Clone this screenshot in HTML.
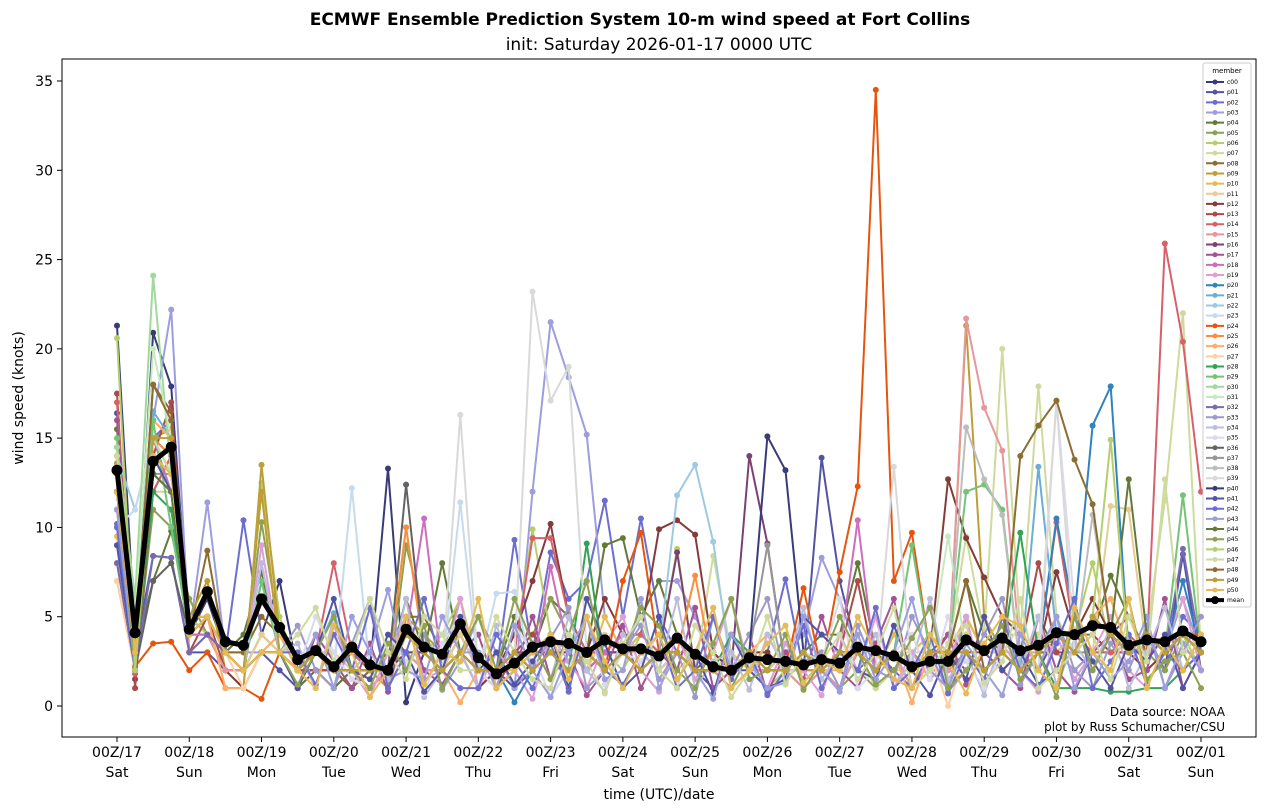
<!DOCTYPE html>
<html><head><meta charset="utf-8"><style>
body{margin:0;background:#fff;}
svg{display:block;font-family:"DejaVu Sans","Liberation Sans",sans-serif;}
</style></head><body>
<svg id="chart" width="1266" height="812">
<rect x="0" y="0" width="1266" height="812" fill="#fff"/>
<text x="640" y="25" text-anchor="middle" font-size="17" font-weight="bold">ECMWF Ensemble Prediction System 10-m wind speed at Fort Collins</text>
<text x="659" y="50" text-anchor="middle" font-size="17">init: Saturday 2026-01-17 0000 UTC</text>
<defs><clipPath id="clip"><rect x="62" y="59" width="1194" height="678"/></clipPath></defs>
<g id="axes"></g>
<g id="series" clip-path="url(#clip)"></g>
<rect x="62" y="59" width="1194" height="678" fill="none" stroke="#000" stroke-width="1"/>
<text x="1225" y="716" text-anchor="end" font-size="12">Data source: NOAA</text>
<text x="1225" y="731" text-anchor="end" font-size="12">plot by Russ Schumacher/CSU</text>
<text x="659" y="799" text-anchor="middle" font-size="14">time (UTC)/date</text>
<text x="23" y="398" text-anchor="middle" font-size="14" transform="rotate(-90 23 398)">wind speed (knots)</text>
<g id="legend"></g>
</svg>
<script>
const members=["c00","p01","p02","p03","p04","p05","p06","p07","p08","p09","p10","p11","p12","p13","p14","p15","p16","p17","p18","p19","p20","p21","p22","p23","p24","p25","p26","p27","p28","p29","p30","p31","p32","p33","p34","p35","p36","p37","p38","p39","p40","p41","p42","p43","p44","p45","p46","p47","p48","p49","p50"];
const xTickDates=["00Z/17","00Z/18","00Z/19","00Z/20","00Z/21","00Z/22","00Z/23","00Z/24","00Z/25","00Z/26","00Z/27","00Z/28","00Z/29","00Z/30","00Z/31","00Z/01"];
const xTickDays=["Sat","Sun","Mon","Tue","Wed","Thu","Fri","Sat","Sun","Mon","Tue","Wed","Thu","Fri","Sat","Sun"];
const yTicks=[0,5,10,15,20,25,30,35];
const meanValues=[13.2,4.1,13.7,14.5,4.3,6.4,3.6,3.4,6.0,4.4,2.6,3.1,2.2,3.3,2.3,2.0,4.3,3.3,2.9,4.6,2.7,1.8,2.4,3.3,3.6,3.5,3.0,3.7,3.2,3.2,2.8,3.8,2.9,2.2,2.0,2.7,2.6,2.5,2.3,2.6,2.4,3.3,3.1,2.8,2.2,2.5,2.5,3.7,3.1,3.8,3.1,3.4,4.1,4.0,4.5,4.4,3.4,3.7,3.6,4.2,3.6];
const memberValues=[
[21.3,4,20.9,17.9,4,6,3,2,4,7, 2,3,2,1,2,13.3,0.2,3,2,4, 2,1,2,3,4,3,2,3,3,2, 3,4,2,2,1,2,2,2,1,2, 1,3,2,3,1,2,2,3,2,3, 2,3,4,3,5,4,3,4,3,4, 3],
[16.4,3,8.4,8.3,3,3,2,2,3,2, 1,2,1,2,1,2,3,2,2,3, 1,2,1,2,3,2,3,3,4,3, 2,3,2,1,2,2,3,2,2,13.9, 7,3,2,4,3,2,3,2,3,2, 3,2,4,3,2,4,5,3,2,8.5, 2],
[10.2,2,15,16,5,5,3,10.4,4,3, 2,2,2,1,2,1,3,3,2,3, 2,2,9.3,3,8.6,6,7,11.5,5,10.5, 5,3,2,2,2,3,3,7.1,2,2, 3,2,3,2,1,3,2,4,3,3, 2,4,3,2,3,3,3,4,2,5, 4],
[12,2,16,22.2,4,11.4,3,3,3,3, 2,3,2,2,2,1,3,2,2,3, 2,3,1,12,21.5,18.4,15.2,5,3,5, 7,7,5,3,2,3,2,3,4,8.3, 6,3,2,3,2,3,2,5,3,3, 2,3,3,2,3,4,3,2,3,6, 3],
[15.5,3,7,9.8,5,4,3,4,7.5,3, 1,2,1,2,1,2,6,3,8,3, 2,2,5,3,6,5,3,9,9.4,5, 7,4,2,3,2,3,2,2,3,4, 4,8,3,2,3,2,3,7,4,3, 2,5,3,4,4,7.3,5,3,4,4, 3],
[14.5,2,11,10,6,4,3,2,10.3,4, 2,3,2,3,2,1,9,5,3,6, 2,1,3,4,6,4,2,3,3,4, 3,3,2,2,1,3,2,2,1,2, 1,2,1,2,3,2,1,5,3,4, 2,3,4,3,3,4,3,3,2,4, 2],
[11,3,16,15,5,4,2,1,12.5,5, 2,2,2,3,2,2,10,3,4,6, 2,1,3,9.9,4,3,2,3,2,4, 3,8.8,2,2,3,2,1,2,2,3, 2,3,2,3,2,3,2,3,2,3, 2,3,3,4,8,3,3,4,3,4, 2],
[9,2,15,13,3,4,2,1,3,4, 2,3,2,3,2,1,4,3,2,3, 2,1,2,3,4,3,2,3,3,2, 3,4,2,8.4,3,2,3,2,2,3, 2,3,1,2,2,3,3,9.5,4,20, 4,17.9,5,3,4,3,3,4,11.5,22, 3],
[13,3,18,16.5,4,8.7,3,3,5,4, 2,3,2,1,2,3,5,5,3,4, 2,1,3,3,4,3,2,3,4,3, 2,3,2,3,2,3,2,3,2,3, 2,3,2,3,2,3,2,3,2,3, 2,3,3,4,3,4,3,4,3,4, 3],
[13.6,3,15,15.5,5,7,2,1,13.5,4, 2,3,2,2,2,1,5,4,3,4, 2,1,2,3,4,3,2,3,3,2, 3,4,2,2,1,2,2,3,2,2, 1,3,2,3,1,2,2,21.3,5,3, 2,3,4,3,5,4,3,4,3,4, 3],
[9.5,2,16,15,5,5,2,2,4,3, 2,3,3,2,3,2,4,3,2,3, 1,2,2,3,4,3,2,5,3,4, 3,2,3,2,2,3,2,2,3,2, 2,3,2,4,3,4,3,5,3,4, 4,3,4,3,5,4,3,4,3,4, 4],
[8,3,12,12,4,5,3,2,4,3, 2,3,3,2,2,2,5,3,2,4, 2,2,3,2,4,3,2,4,3,3, 2,3,3,2,3,2,2,3,2,3, 2,3,2,3,3,3,2,4,3,3, 3,4,3,4,3,11.2,11,3,4,3, 3],
[12,1.5,12,14,3,4,2,1,3,3, 2,2,2,2,1,2,4,3,2,3, 1,2,4,7,10.2,5,3,6,4,4, 9.9,10.4,9.6,3,2,3,3,2,3,2, 3,3,2,3,2,3,12.7,9.4,7.2,5, 4,3,7.5,4,6,4,3,2,3,2, 3],
[17.5,1,14,17,3,5,2,2,3,3, 2,2,2,3,2,2,4,3,2,3, 2,1,3,4,3,3,2,3,3,2, 3,3,2,2,2,3,2,2,3,2, 3,7,2,3,2,3,4,3,3,2, 3,8,3,3,4,3,3,4,3,4, 3],
[17,1.8,12,14,3,4,3,2,3,3, 2,3,8,3,2,2,4,3,2,3, 2,2,3,9.4,9.4,5,3,3,4,4, 3,3,2,2,2,3,2,2,3,2, 3,3,2,3,2,3,3,3,2,3, 2,3,10.3,4,3,3,4,3,25.9,20.4, 12],
[11,2,13,12,3,4,2,2,3,3, 2,3,2,2,1,2,3,2,2,3, 2,1,2,3,4,3,2,3,3,2, 3,3,2,2,1,2,2,2,1,2, 1,3,2,3,1,2,2,21.7,16.7,14.3, 3,3,4,3,5,4,3,4,3,4, 3],
[10,3,14,12,4,4,3,2,3,3, 2,3,2,2,2,2,3,3,2,3, 2,2,3,3,3,3,2,3,3,2, 3,8.6,2,2,2,14,9.1,2,3,2, 3,3,2,3,2,3,3,3,2,3, 2,3,4,3,5,4,3,4,3,4, 3],
[16,3,13,12,4,5,3,2,3,3, 1,4,2.5,1,3.5,0.8,5,2,1.2,3, 4,1,2,5,1.5,3,0.6,2,4.5,1, 3,2,5.5,1,2,4,0.7,3,1.5,5, 2,1,3.5,6,1,2.5,4,1.2,3,2, 1,5,2,0.8,3,4,1.5,2,6,1, 3],
[12,2,15,12,4,4,3,2,3,3, 2,3,2,2,2,2,4,10.5,2,3, 2,2,3,2,7.8,3,2,3,4,3, 3,3,2,2,2,3,2,2,3,2, 3,10.4,2,3,2,3,3,3,2,3, 2,3,4,3,5,4,3,4,3,4, 3],
[11,2,14,13,4,5,3,2,9,3, 3,1,4.5,2,0.5,3,5,1.5,2,6, 1,3,2,0.4,4,2.5,1,3.5,5,2, 0.8,4,1.5,3,6,2,1,3.5,2,0.6, 4,2,5,1,3,1.5,2.5,5,1,3.5, 2,0.8,4,1.5,3,5,2,1,3.5,6, 2],
[10,2,15,14,4,5,3,2,3,3, 2,3,2,2,2,2,4,3,2,3, 2,2,0.2,2,3,2,3,2,3,2, 3,3,2,2,2,3,2,2,3,2, 3,3,2,3,2,3,3,3,2,3, 2,3,10.5,5,15.7,17.9,3,4,3,7, 3],
[13,2,16.5,15,4,5,3,2,3,3, 2,3,5.2,2,2,2,4,3,2,3, 2,2,3,2,3,2,3,2,3,2, 3,3,2,2,2,3,2,2,3,2, 3,3,2,3,2,3,3,3,2,3, 2,13.4,4,3,5,4,3,4,3,4, 3],
[14,11,15,13,4,5,3,2,3,3, 2,3,2,2,2,2,4,3,2,3, 2,2,3,2,3,2,3,2,3,2, 3,11.8,13.5,9.2,2,3,2,2,3,2, 3,3,2,3,2,3,3,3,2,3, 2,3,4,3,5,4,3,4,3,4, 3],
[10,11,15,13,4,5,3,2,8,3, 2,3,2,12.2,2,2,4,3,2,11.4, 2,6.3,6.4,2,3,2,3,2,3,2, 3,3,2,2,2,3,2,2,3,2, 3,3,2,3,2,3,3,3,2,3, 2,3,4,3,5,4,3,4,3,4, 3],
[12,2.2,3.5,3.6,2,3,1,1,0.4,3, 2,3,2,2,2,2,4,3,2,3, 2,2,3,2,3,2,3,2,7,9.7, 3,3,2,2,2,3,2,2,6.6,2, 7.5,12.3,34.5,7,9.7,3,3,3,2,3, 2,3,4,3,5,4,3,4,3,4, 4],
[8,2,15,14,4,5,3,2,3,3, 2,3,2,2,2,2,10,3,2,3, 2,2,3,2,3,2,3,2,3,2, 3,3,7.3,2,2,3,2,2,3,2, 3,3,2,3,2,3,3,3,2,3, 2,3,4,3,5,4,3,4,3,4, 3],
[7,2,16,15,4,5,1,1,3,4, 2,3,2,2,2,2,4,3,2,0.2, 2,2,3,2,3,2,3,2,3,2, 3,3,2,2,2,3,4,2,3,2, 3,3,2,3,0.2,3,3,3,2,3, 2,3,4,3,5,6,3,4,3,4, 3],
[7,2,14,13,4,5,3,1,3,3, 2,3,2,2,2,2,4,3,2,3, 2,2,3,2,3,2,3,2,3,2, 3,3,2,2,2,3,2,2,3,2, 3,3,2,3,2,3,0,3,2,3, 2,3,4,3,5,4,3,4,3,4, 3],
[11,2,12,11,4,5,3,2,7,3, 2,3,2,2,2,2,4,3,2,3, 2,2,3,2,3,2,9.1,2,3,2, 3,3,2,2,4,3,2,2,3,2, 3,3,2,3,2,3,3,3,2,3, 9.7,3,1,1,1,0.8,0.8,1,1,2, 3],
[15,2,16,10,4,5,3,2,7,3, 2,3,2,2,2,2,4,3,2,3, 2,2,3,2,3,2,3,2,3,2, 3,3,2,2,2,3,2,2,3,2, 3,3,2,3,9,3,3,12,12.4,11, 2,3,4,3,5,4,3,4,3,11.8, 3],
[14.5,6,24.1,13,4,5,3,2,3,3, 2,3,2,2,2,2,4,3,2,3, 2,2,3,2,3,2,3,2,3,2, 3,3,2,2,2,3,2,2,3,2, 3,3,2,3,2,3,3,3,2,3, 2,3,4,3,5,4,3,4,3,4, 3],
[13,5,20,15,4,5,3,2,3,3, 2,3,2,2,2,2,4,3,2,3, 2,2,3,2,3,2,3,2,3,2, 3,3,2,2,2,3,2,2,3,2, 3,3,2,3,2,3,9.5,3,2,3, 2,3,4,3,5,4,3,4,3,4, 3],
[8,2,8.4,8.3,3,4,3,2,3,3, 2,3,2,2,2,2,4,3,2,3, 2,2,3,2,3,2,3,2,3,2, 3,3,2,2,2,3,2,2,3,2, 3,3,2,3,2,3,3,3,2,3, 2,3,4,3,5,4,3,4,3,8.8, 3],
[9,2,13,12,4,5,3,2,3,3, 4.5,2,1,3.5,6,1.5,2,4,0.9,2.5, 5,3,1.2,2,3.8,5.5,1,2,3,4.5, 1.5,3,0.5,5,2,4,6,1.5,2.5,3, 1,4.5,2,1.5,5,3,0.8,2,4,6, 1.2,3,5,2,1,3.5,2,4.5,1,3, 5],
[10,2,14,13,4,5,3,2,8,3, 3.5,1,5,2,3,1.5,6,0.5,2,3, 1,4.5,2,3.5,1.5,5,2,0.8,4,3, 2,6,1,2.5,3,0.9,4,2,5.5,1.5, 3,2,4,1,2.5,6,1.5,3,0.6,4, 2,5,1.2,3.5,2,4.5,1,3,5.5,2, 3],
[9,2,14,13,4,5,3,2,3,3, 2,5,3,1.5,1,4,2.5,0.7,3.5,5, 2,1,4.5,3,0.5,2,5,1.2,3,2.5, 4,1.5,3,5.5,1,2,3.5,4.5,1.3,2.5, 6,1,2,3,4,1.5,5,2.5,1,3, 4.5,2,17.1,5.5,3,2,6,1,3.5,2, 4],
[13,2,7,8,4,5,3,2,3,3, 2,3,2,2,2,2,12.4,3,2,3, 2,2,3,2,3,2,3,2,3,2, 3,3,2,2,2,3,2,2,3,2, 3,3,2,3,2,3,3,3,2,3, 2,3,4,3,5,4,3,4,3,4, 3],
[10,2,13,13,4,5,3,2,3,3, 2,3,2,2,2,2,4,3,2,3, 2,2,3,2,3,2,3,2,3,2, 3,3,2,2,2,3,9,2,3,2, 3,3,2,3,2,3,3,3,2,3, 2,3,4,3,5,4,3,4,3,4, 3],
[9,2,14,12,4,5,3,2,3,3, 2,3,2,2,2,2,4,3,2,3, 2,2,3,2,3,2,3,2,3,2, 3,3,2,2,2,3,2,2,3,2, 3,3,2,3,2,3,3,15.6,12.7,10.7, 2,3,4,3,10.7,4,3,4,3,4, 3],
[11,2,14,13,4,5,3,2,3,3, 2,3,2,2,2,2,4,3,2,16.3, 2,2,3,23.2,17.1,19,3,2,3,2, 3,3,2,2,2,3,2,2,3,2, 3,3,2,13.4,2,3,3,3,2,3, 2,3,17.1,3,5,4,3,4,3,4, 3],
[12,3,14,13,4,5,3,2,3,3, 2,3,2,2,2,2,4,3,2,3, 2,2,3,2,3,2,3,2,3,2, 3,3,2,2,2,3,15.1,13.2,3,2, 3,3,2,3,2,3,3,3,2,3, 2,3,4,3,5,4,3,4,3,4, 3],
[9,2,14,12,4,5,3,2,3,3, 1,3,6,2,1.5,4,3,0.8,2,5, 2,3,1.2,2.5,4,1,6,3.5,1,2, 5,1.5,3,0.7,4,2,1,1.5,5,4, 3,2,1.5,4.5,2,0.6,3,1.5,5,2, 3,1.2,2,5,2.5,1,3.5,2.5,4,1, 3],
[10,2,13,12,4,5,3,2,3,3, 3,1.2,4,2,5.5,1,3,6,2,1, 1,4,2.5,1,3.5,0.8,5,2,1.2,3, 4,1,2,5,1.5,3,0.6,2,4.5,1, 3,2,5.5,1,2,4,0.7,3,1.5,5, 2,1,3.5,6,1,2.5,4,1.2,3,2, 3],
[11,2,14,13,4,5,3,2,3,3, 2,4,1,5,3,6.5,2,1.5,5,3, 3,1,4.5,2,0.5,3,5,1.5,2,6, 1,3,2,0.4,4,2.5,1,1.3,5,2, 0.8,4,1.5,3,6,2,1,3.5,2,0.6, 4,2,5,1,3,1.5,2.5,5,1,3.5, 2],
[14,2,13,12,4,5,3,2,3,3, 2,3,2,2,2,2,4,3,2,3, 2,2,3,2,3,2,3,2,3,2, 3,3,2,2,2,3,2,2,3,2, 3,3,2,3,2,3,3,3,2,3, 2,3,4,3,5,4,12.7,4,3,4, 3],
[13,2,15,13,4,5,3,2,3,3, 1.2,3,5,2,1,3.5,2,4.5,1,3, 5,2,6,3.5,1.5,4,7,2,3,5.5, 4.5,2,1,3.5,6,1.5,2,4,0.9,2.5, 5,3,1.2,2,3.8,5.5,1,2,3,4.5, 1.5,3,0.5,5,2,4,6,1.5,2.5,3, 1],
[20.6,2,14,13,4,5,3,2,12,3, 2,3,2,2,2,2,4,3,2,3, 2,2,3,2,3,2,3,2,3,2, 3,3,2,2,2,3,2,2,3,2, 3,3,2,3,2,3,3,3,2,3, 2,3,4,3,5,14.9,3,4,3,4, 3],
[14,3,15,13,4,5,3,2,3,3, 4,5.5,2.5,3,6,3,1.5,5,4,2, 2,5,3,1.5,1,4,2.5,0.7,3.5,5, 2,1,4.5,3,0.5,2,5,1.2,3,2.5, 4,1.5,3,5.5,1,2,3.5,4.5,1.3,2.5, 6,1,2,3,4,1.5,5,2.5,12.7,3, 4],
[12,3,18,16,4,5,3,2,3,3, 2,3,2,2,2,2,4,3,2,3, 2,2,3,2,3,2,3,2,3,2, 3,3,2,2,2,3,2,2,3,2, 3,3,2,3,2,3,3,7,2,3, 14,15.7,17.1,13.8,11.3,4,3,4,3,4, 3],
[13,3,15,15,4,5,3,2,12,3, 2,3,2,2,2,2,4,3,2,3, 2,2,3,2,3,2,3,2,3,2, 3,3,2,2,2,3,2,2,3,2, 3,3,2,3,2,3,3,3,2,3, 2,3,4,3,5,4,3,4,3,4, 3],
[12,3,14,13,4,5,3,2,3,3, 2,1,4.5,3,0.5,2,5,1.2,3,2.5, 6,1,2,3,4,1.5,5,2.5,1,3, 4,1.5,3,5.5,1,2,3.5,4.5,1.3,2.5, 2,5,3,1.5,1,4,2.5,0.7,3.5,5, 4.5,2,1,5.5,3,2,6,1,3.5,2, 4]
];
const colors=["#393b79","#5254a3","#6b6ecf","#9c9ede","#637939","#8ca252","#b5cf6b","#cedb9c","#8c6d31","#bd9e39","#e7ba52","#e7cb94","#843c39","#ad494a","#d6616b","#e7969c","#7b4173","#a55194","#ce6dbd","#de9ed6","#3182bd","#6baed6","#9ecae1","#c6dbef","#e6550d","#fd8d3c","#fdae6b","#fdd0a2","#31a354","#74c476","#a1d99b","#c7e9c0","#756bb1","#9e9ac8","#bcbddc","#dadaeb","#636363","#969696","#bdbdbd","#d9d9d9","#393b79","#5254a3","#6b6ecf","#9c9ede","#637939","#8ca252","#b5cf6b","#cedb9c","#8c6d31","#bd9e39","#e7ba52"];
const NS="http://www.w3.org/2000/svg";
const xScale=i=>117+i*(1084/60);
const yScale=v=>706-v*(625/35);
function mk(tag,attrs,parent){const e=document.createElementNS(NS,tag);for(const k in attrs)e.setAttribute(k,attrs[k]);parent.appendChild(e);return e;}
const axes=document.getElementById('axes');
yTicks.forEach(t=>{
  const y=yScale(t);
  const l=mk('line',{x1:57,x2:62,y1:y,y2:y,stroke:'#000'},axes);
  
  
  const tx=mk('text',{x:53,y:y+5,'text-anchor':'end','font-size':14},axes);
  tx.textContent=t;
  
  
});
xTickDates.forEach((d,i)=>{
  const x=xScale(i*4);
  const l=mk('line',{x1:x,x2:x,y1:737,y2:742,stroke:'#000'},axes);
  
  
  const t1=mk('text',{x:x,y:757,'text-anchor':'middle','font-size':14},axes);
  t1.textContent=d;
  
  
  const t2=mk('text',{x:x,y:777,'text-anchor':'middle','font-size':14},axes);
  t2.textContent=xTickDays[i];
  
  
});
const series=document.getElementById('series');
function drawSeries(vals,color,lw,r,name){
  const g=mk('g',{},series);
  
  
  const pts=vals.map((v,i)=>xScale(i).toFixed(1)+','+yScale(v).toFixed(1)).join(' ');
  mk('polyline',{points:pts,fill:'none',stroke:color,'stroke-width':lw,'stroke-linejoin':'round'},g);
  vals.forEach((v,i)=>{mk('circle',{cx:xScale(i),cy:yScale(v),r:r,fill:color},g);});
}
memberValues.forEach((vals,k)=>drawSeries(vals,colors[k],2,3,'series-'+members[k]));
drawSeries(meanValues,'#000',5,5.5,'series-mean');
const lg=document.getElementById('legend');
mk('rect',{x:1203,y:63,width:48,height:544,fill:'#fff',stroke:'#ccc','stroke-width':1,rx:2},lg);
const lt=mk('text',{x:1227,y:73,'text-anchor':'middle','font-size':7},lg);
lt.textContent='member';


const labels=members.concat(['mean']);
labels.forEach((m,k)=>{
  const y=82+k*10.16;
  const c=k<51?colors[k]:'#000';
  const g=mk('g',{},lg);
  
  
  mk('line',{x1:1206,x2:1224,y1:y,y2:y,stroke:c,'stroke-width':k<51?2:4},g);
  mk('circle',{cx:1215,cy:y,r:k<51?2.5:4,fill:c},g);
  const t=mk('text',{x:1227,y:y+2,'font-size':6},g);
  t.textContent=m;
});
</script>
</body></html>
